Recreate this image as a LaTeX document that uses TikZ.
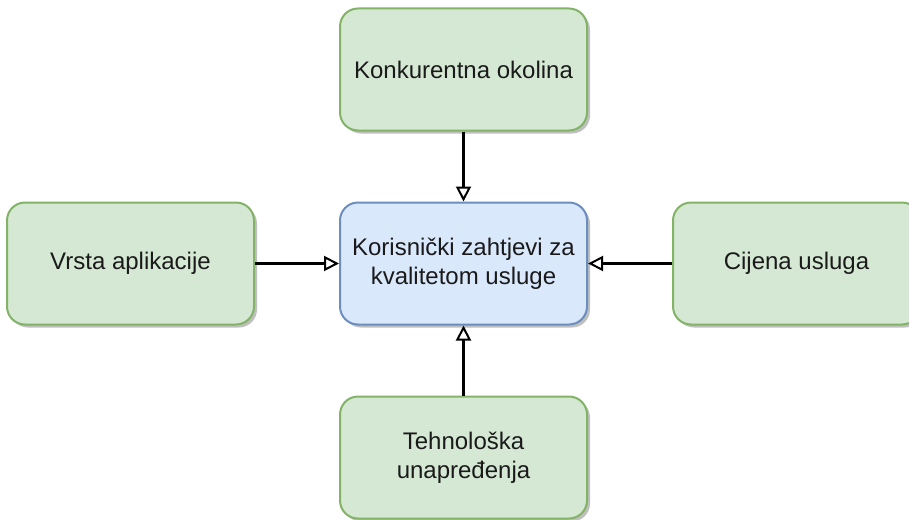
\documentclass[tikz,border=0pt]{standalone}
\usepackage{fontspec}
\setmainfont{Liberation Sans}
\usetikzlibrary{positioning,shadows,arrows.meta}
\definecolor{greenfill}{HTML}{D5E8D4}
\definecolor{greenline}{HTML}{82B366}
\definecolor{bluefill}{HTML}{DAE8FC}
\definecolor{blueline}{HTML}{6C8EBF}
\definecolor{textcol}{HTML}{1A1A1A}

\begin{document}
\begin{tikzpicture}[node distance={70pt and 84pt}, line width=2pt,
    main/.style = {draw, rounded corners=18pt, minimum width=247pt, minimum height=122pt,
      align=center, text=textcol, font=\fontsize{24}{29}\selectfont,
      drop shadow={shadow xshift=3pt, shadow yshift=-3pt, fill=black, opacity=0.25}},
    factor/.style = {main, fill=greenfill, draw=greenline},
    goal/.style = {main, fill=bluefill, draw=blueline},
    link/.style = {draw, line width=2.4pt,
      -{Triangle[open, length=15pt, width=15pt, line width=2pt]}}]
      \useasboundingbox (0,0) rectangle (909pt,-519pt);
      \node[goal] (1) at (463.5pt,-263.5pt) {Korisnički zahtjevi za\\kvalitetom usluge};
      \node[factor] (2) [above=of 1] {Konkurentna okolina};
      \node[factor] (3) [left=of 1] {Vrsta aplikacije};
      \node[factor] (4) [right=of 1] {Cijena usluga};
      \node[factor] (5) [below=of 1] {Tehnološka\\unapređenja};

      \path[every edge/.style={link}]
      (2) edge (1)
      (3) edge (1)
      (4) edge (1)
      (5) edge (1);
    \end{tikzpicture}
\end{document}
